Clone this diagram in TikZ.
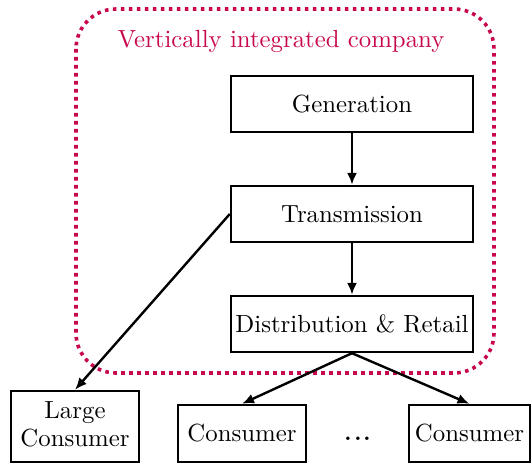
\documentclass[tikz,border=0pt]{standalone}
\usetikzlibrary{arrows.meta}
\definecolor{firm}{RGB}{200,8,78}
% text is set at 10pt and enlarged, keeping the 10pt design
\newcommand{\enlarged}[1]{\scalebox{2.48}{#1}}
\begin{document}
\begin{tikzpicture}[x=1pt,y=-1pt,
  unit/.style={draw,line width=2.4pt,minimum height=56pt,inner sep=0pt,align=center},
  flow/.style={line width=2.4pt,-{Latex[length=12pt,width=10pt]}}]
  \useasboundingbox (0,0) rectangle (531,465);
  % company boundary
  \draw[firm,line width=3.6pt,dash pattern=on 3.6pt off 4.4pt,rounded corners=40pt]
    (76,9) rectangle (494,373);
  \node[text=firm] (title) at (281,41) {\enlarged{Vertically integrated company}};
  % stages inside the company
  \node[unit,minimum width=242pt] (gen) at (352,104) {\enlarged{Generation}};
  \node[unit,minimum width=242pt] (tra) at (352,214) {\enlarged{Transmission}};
  \node[unit,minimum width=242pt] (dis) at (352,324) {\enlarged{Distribution \& Retail}};
  % customers
  \node[unit,minimum width=128pt,minimum height=71pt] (lc) at (75,426.5)
    {\enlarged{\begin{tabular}{@{}c@{}}Large\\[-0.6pt]Consumer\end{tabular}}};
  \node[unit,minimum width=128pt,minimum height=57pt] (c1) at (242,433.5) {\enlarged{Consumer}};
  \node[unit,minimum width=121pt,minimum height=57pt] (c2) at (469.5,433.5) {\enlarged{Consumer}};
  \node[anchor=base,inner sep=0pt] (dots) at (358,441) {\enlarged{\Large ...}};
  % energy flow
  \draw[flow] (gen.south) -- (tra.north);
  \draw[flow] (tra.south) -- (dis.north);
  \draw[flow] (tra.west) -- (lc.north);
  \draw[flow] (dis.south) -- (c1.north);
  \draw[flow] (dis.south) -- (c2.north);
\end{tikzpicture}
\end{document}
